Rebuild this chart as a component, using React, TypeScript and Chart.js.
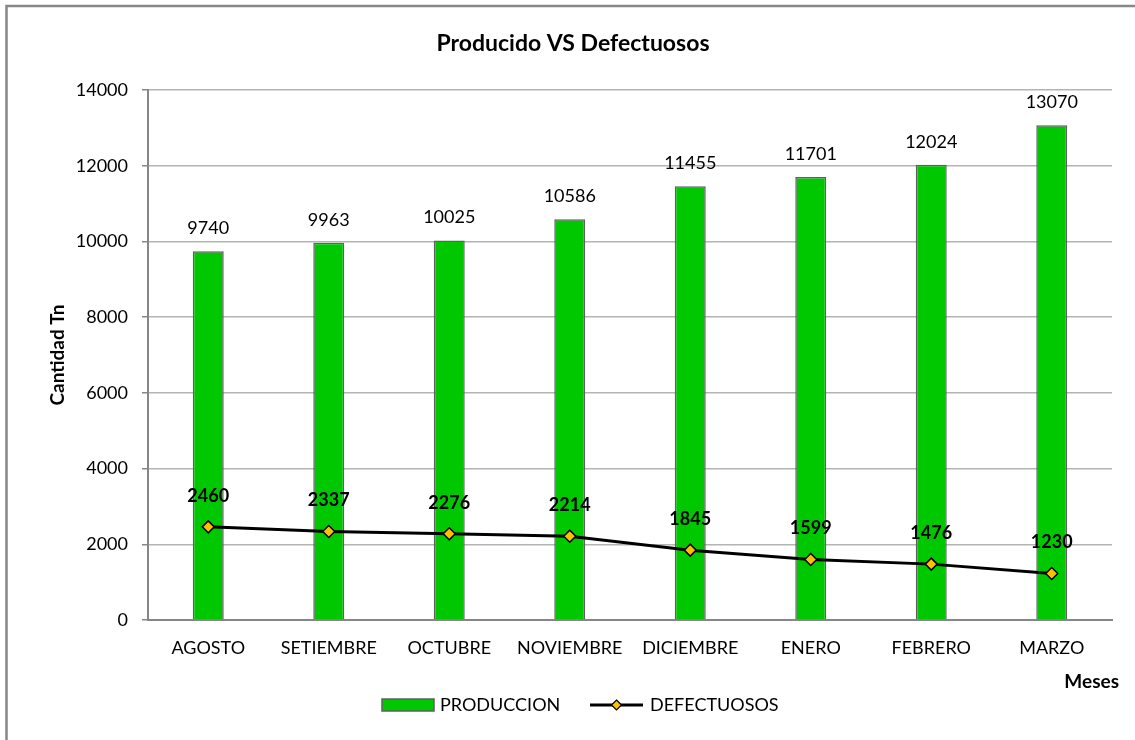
import React, { useEffect, useRef } from "react";
import { Chart, registerables } from "chart.js";

Chart.register(...registerables);

const months = ["AGOSTO", "SETIEMBRE", "OCTUBRE", "NOVIEMBRE", "DICIEMBRE", "ENERO", "FEBRERO", "MARZO"];
const produccion = [9740, 9963, 10025, 10586, 11455, 11701, 12024, 13070];
const defectuosos = [2460, 2337, 2276, 2214, 1845, 1599, 1476, 1230];
const yMin = 0;
const yMax = 14000;
const yStep = 2000;

const chartTitle = "Producido VS Defectuosos";
const yTitle = "Cantidad Tn";
const xTitle = "Meses";
const seriesNames = ["PRODUCCION", "DEFECTUOSOS"];

const FONT = "Lato, 'Noto Sans', sans-serif";
const GREEN = "#00c800";
const BAR_EDGE = "#5f5f5f";
const MARKER = "#ffc000";
const AXIS = "#868686";
const GRID = "#b4b4b4";

// Outer frame, title, x-axis caption and legend drawn straight on the canvas
const framePlugin = {
  id: "frame",
  beforeDraw(chart: Chart) {
    const ctx = chart.ctx;
    ctx.save();
    ctx.fillStyle = "#ffffff";
    ctx.fillRect(0, 0, chart.width, chart.height);
    ctx.strokeStyle = AXIS;
    ctx.lineWidth = 2.5;
    ctx.strokeRect(6.5, 6, 1400, 1000);
    ctx.restore();
  },
  afterDraw(chart: Chart) {
    const ctx = chart.ctx;
    ctx.save();
    ctx.fillStyle = "#000";
    ctx.textBaseline = "middle";
    ctx.textAlign = "center";
    ctx.font = `bold 23px ${FONT}`;
    ctx.fillText(chartTitle, 573, 44);

    // x-axis caption, right aligned under the last category
    ctx.textAlign = "right";
    ctx.font = `bold 19px ${FONT}`;
    ctx.fillText(xTitle, 1119, 682);

    // legend
    const ly = 705;
    ctx.font = `18px ${FONT}`;
    ctx.textAlign = "left";
    ctx.fillStyle = GREEN;
    ctx.fillRect(382, 699, 52, 12);
    ctx.strokeStyle = BAR_EDGE;
    ctx.lineWidth = 1.5;
    ctx.strokeRect(382, 699, 52, 12);
    ctx.fillStyle = "#000";
    ctx.fillText(seriesNames[0], 440, ly);

    ctx.strokeStyle = "#000";
    ctx.lineWidth = 3;
    ctx.beginPath();
    ctx.moveTo(590, ly);
    ctx.lineTo(643, ly);
    ctx.stroke();
    ctx.beginPath();
    ctx.moveTo(616.5, ly - 5);
    ctx.lineTo(621.5, ly);
    ctx.lineTo(616.5, ly + 5);
    ctx.lineTo(611.5, ly);
    ctx.closePath();
    ctx.fillStyle = MARKER;
    ctx.fill();
    ctx.lineWidth = 1.2;
    ctx.stroke();
    ctx.fillStyle = "#000";
    ctx.fillText(seriesNames[1], 650, ly);
    ctx.restore();
  },
};

// Value labels above bars and line points
const valueLabels = {
  id: "valueLabels",
  afterDatasetsDraw(chart: Chart) {
    const ctx = chart.ctx;
    ctx.save();
    ctx.fillStyle = "#000";
    ctx.textAlign = "center";
    ctx.textBaseline = "middle";
    chart.data.datasets.forEach((ds, i) => {
      const meta = chart.getDatasetMeta(i);
      const isLine = ds.type === "line";
      ctx.font = isLine ? `bold 18px ${FONT}` : `18px ${FONT}`;
      meta.data.forEach((el: any, j: number) => {
        const v = ds.data[j] as number;
        ctx.fillText(String(v), el.x, el.y - (isLine ? 31 : 23));
      });
    });
    ctx.restore();
  },
};

export default function App() {
  const ref = useRef<HTMLCanvasElement | null>(null);

  useEffect(() => {
    if (!ref.current) return;
    const chart = new Chart(ref.current, {
      type: "bar",
      data: {
        labels: months,
        datasets: [
          {
            type: "line",
            label: seriesNames[1],
            data: defectuosos,
            order: 0,
            borderColor: "#000",
            borderWidth: 3,
            tension: 0,
            pointStyle: "rectRot",
            pointRadius: 6,
            pointBackgroundColor: MARKER,
            pointBorderColor: "#000",
            pointBorderWidth: 1.5,
          },
          {
            type: "bar",
            label: seriesNames[0],
            data: produccion,
            order: 1,
            backgroundColor: GREEN,
            borderColor: BAR_EDGE,
            borderWidth: 1.5,
            categoryPercentage: 1,
            barPercentage: 0.257,
          },
        ],
      } as any,
      options: {
        animation: false,
        responsive: false,
        devicePixelRatio: 1,
        layout: { padding: { left: 0, top: 90, right: 23, bottom: 40 } },
        plugins: {
          legend: { display: false },
          title: { display: false },
          tooltip: { enabled: false },
        },
        scales: {
          x: {
            offset: true,
            grid: { display: false, drawTicks: false },
            border: { display: true, color: AXIS, width: 2 },
            ticks: {
              color: "#000",
              font: { family: FONT, size: 18 },
              padding: 17,
              maxRotation: 0,
              autoSkip: false,
            },
            afterFit(scale: any) {
              scale.height = 80;
            },
          },
          y: {
            min: yMin,
            max: yMax,
            grid: { color: GRID, lineWidth: 1.5, drawTicks: true, tickLength: 6, tickColor: AXIS },
            border: { display: true, color: AXIS, width: 2 },
            ticks: {
              stepSize: yStep,
              color: "#000",
              font: { family: FONT, size: 18 },
              padding: 14,
              callback: (v: any) => String(v),
            },
            title: {
              display: true,
              text: yTitle,
              color: "#000",
              font: { family: FONT, size: 19, weight: "bold" },
              padding: { top: 46, bottom: 0 },
            },
            afterFit(scale: any) {
              scale.width = 148;
            },
          },
        },
      } as any,
      plugins: [framePlugin, valueLabels],
    });
    return () => chart.destroy();
  }, []);

  return (
    <div style={{ position: "fixed", left: 0, top: 0, width: 1135, height: 740, background: "#fff" }}>
      <canvas ref={ref} width={1135} height={740} style={{ display: "block" }} />
    </div>
  );
}
